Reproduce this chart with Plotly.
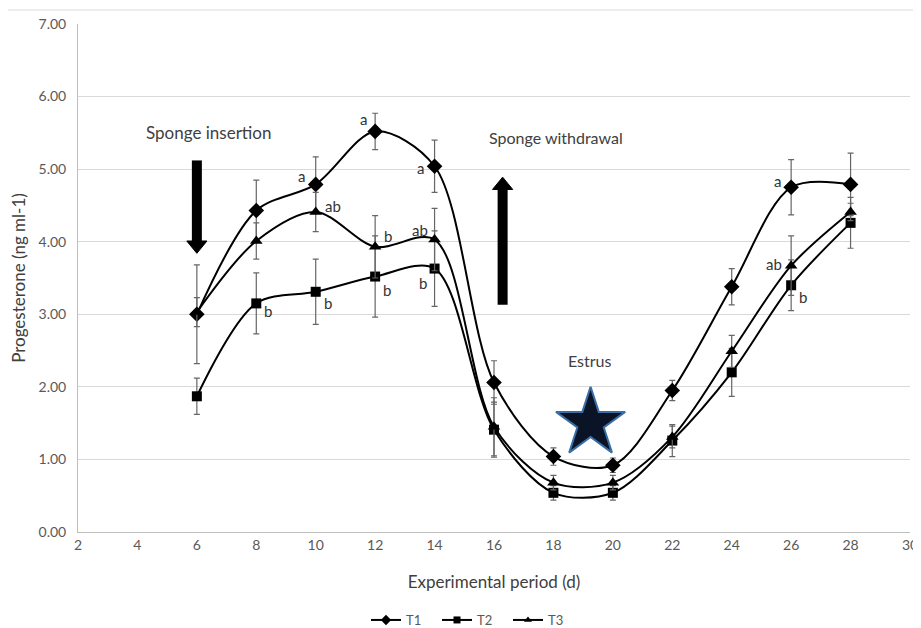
import plotly.graph_objects as go

days = [6, 8, 10, 12, 14, 16, 18, 20, 22, 24, 26, 28]
T1 = [3.00, 4.43, 4.79, 5.52, 5.04, 2.06, 1.04, 0.92, 1.95, 3.38, 4.75, 4.79]
T1_err = [0.68, 0.42, 0.38, 0.25, 0.36, 0.30, 0.12, 0.10, 0.14, 0.25, 0.38, 0.43]
T2 = [1.87, 3.15, 3.31, 3.52, 3.63, 1.41, 0.54, 0.54, 1.26, 2.20, 3.40, 4.26]
T2_err = [0.25, 0.42, 0.45, 0.56, 0.52, 0.38, 0.10, 0.10, 0.22, 0.33, 0.35, 0.35]
T3 = [3.03, 4.01, 4.41, 3.93, 4.03, 1.45, 0.68, 0.68, 1.31, 2.49, 3.67, 4.41]
T3_err = [0.20, 0.25, 0.27, 0.43, 0.43, 0.40, 0.10, 0.10, 0.15, 0.22, 0.41, 0.12]

T1_letters = ["", "", "a", "a", "a", "", "", "", "", "", "a", ""]
T2_letters = ["", "b", "b", "b", "b", "", "", "", "", "", "b", ""]
T3_letters = ["", "", "ab", "b", "ab", "", "", "", "", "", "ab", ""]

estrus_day = [19.25]
estrus_level = [1.50]

FONT = "Lato, Open Sans, sans-serif"
TXT = "#595959"

# the page body adds an 8px offset; compensate so the plot lands where the reference has it
OFF = 8
W, H = 921 - OFF, 628 - OFF

fig = go.Figure()

series = [
    ("T1", T1, T1_err, "diamond", 12, 8),
    ("T2", T2, T2_err, "square", 10, 7),
    ("T3", T3, T3_err, "triangle-up", 11, 7),
]
for name, ys, err, sym, size, lsize in series:
    fig.add_trace(go.Scatter(
        x=days, y=ys, name=name, mode="lines+markers", showlegend=False,
        line=dict(color="black", width=2, shape="spline", smoothing=0.9),
        marker=dict(symbol=sym, size=size, color="black"),
        error_y=dict(type="data", array=err, visible=True, color="#666666",
                     thickness=1.2, width=3),
    ))
    # legend entry with the smaller marker used in the reference legend
    fig.add_trace(go.Scatter(
        x=[None], y=[None], name=name, mode="lines+markers",
        line=dict(color="black", width=2),
        marker=dict(symbol=sym, size=lsize, color="black"),
    ))

fig.add_trace(go.Scatter(
    x=estrus_day, y=estrus_level, mode="markers", showlegend=False,
    marker=dict(symbol="star", size=52, color="#0b1426",
                line=dict(color="#3a6ea5", width=2)),
    hoverinfo="skip",
))

# letter labels: (xshift, yshift) per series for the positions used
offsets = {
    "T1": {2: (-14, 8), 3: (-12, 12), 4: (-14, -2), 10: (-14, 6)},
    "T2": {1: (12, -8), 2: (12, -11), 3: (12, -13), 4: (-12, -14), 10: (12, -12)},
    "T3": {2: (17, 6), 3: (13, 11), 4: (-15, 10), 10: (-17, 2)},
}
for name, ys, letters in [("T1", T1, T1_letters), ("T2", T2, T2_letters), ("T3", T3, T3_letters)]:
    for i, lab in enumerate(letters):
        if lab:
            dx, dy = offsets[name][i]
            fig.add_annotation(x=days[i], y=ys[i], text=lab, showarrow=False,
                               xshift=dx, yshift=dy,
                               font=dict(family=FONT, size=15, color="#333333"))


# thick block arrows (shaft + triangular head)
def block_arrow(x, y_tail, y_tip, head_len=0.17, head_half=0.34):
    direction = 1 if y_tip > y_tail else -1
    y_base = y_tip - direction * head_len
    fig.add_shape(type="line", xref="x", yref="y", x0=x, x1=x, y0=y_tail, y1=y_base,
                  line=dict(color="black", width=10))
    fig.add_shape(type="path", xref="x", yref="y",
                  path=f"M {x - head_half},{y_base} L {x + head_half},{y_base} L {x},{y_tip} Z",
                  fillcolor="black", line=dict(color="black", width=1))


block_arrow(6.0, 5.12, 3.84)
block_arrow(16.29, 3.13, 4.89)

fig.add_annotation(x=6.4, y=5.50, text="Sponge insertion", showarrow=False,
                   font=dict(family=FONT, size=17, color="#404040"))
fig.add_annotation(x=18.1, y=5.43, text="Sponge withdrawal", showarrow=False,
                   font=dict(family=FONT, size=16, color="#404040"))
fig.add_annotation(x=19.24, y=2.36, text="Estrus", showarrow=False,
                   font=dict(family=FONT, size=16, color="#404040"))

fig.add_shape(type="line", xref="paper", yref="paper", x0=-0.1, x1=1.02, y0=1.0276, y1=1.0276,
              line=dict(color="#d9d9d9", width=1))

fig.update_layout(
    width=W, height=H,
    margin=dict(l=78 - OFF, r=11, t=24 - OFF, b=96, autoexpand=False),
    paper_bgcolor="white", plot_bgcolor="white",
    font=dict(family=FONT, size=12, color=TXT),
    showlegend=True,
    legend=dict(orientation="h", xref="container", yref="container",
                x=(366 - OFF) / W, xanchor="left", y=(628 - 620) / H, yanchor="middle",
                font=dict(family=FONT, size=13, color=TXT), itemwidth=30,
                entrywidth=26, tracegroupgap=0),
    xaxis=dict(range=[2, 30], dtick=2, tick0=2, showgrid=False, zeroline=False,
               showline=True, linecolor="#bfbfbf", ticks="", automargin=False,
               title=dict(text="Experimental period (d)", font=dict(size=17, color="#404040"), standoff=24),
               tickfont=dict(size=14, color=TXT)),
    yaxis=dict(range=[0, 7], dtick=1, tickformat=".2f", showgrid=True, gridcolor="#d9d9d9",
               zeroline=False, showline=True, linecolor="#bfbfbf", ticks="", automargin=False,
               ticklabelstandoff=8,
               title=dict(text="Progesterone (ng ml-1)", font=dict(size=17, color="#404040"), standoff=10),
               tickfont=dict(size=14, color=TXT)),
)

fig.write_html("out.html")
